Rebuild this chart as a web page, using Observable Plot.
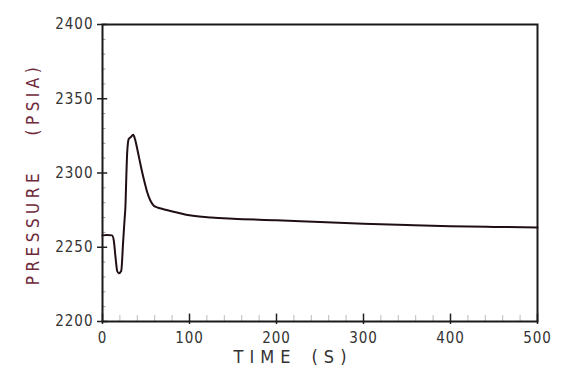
<!DOCTYPE html>
<html>
<head>
<meta charset="utf-8">
<script src="https://cdn.jsdelivr.net/npm/d3@7"></script>
<script src="https://cdn.jsdelivr.net/npm/@observablehq/plot@0.6"></script>
<style>
  html, body { margin: 0; padding: 0; background: #fff; }
  #chart svg { display: block; }
</style>
</head>
<body>
<div id="chart"></div>
<script>
// Time (s)
const time = [0, 5, 11, 13, 15, 16.9, 18.8, 21.5, 23.8, 25.3, 26.4, 27.4, 28.4, 30.2, 32.2, 35.3, 37.5, 39.9, 42.5, 45.6, 48.5, 51.4, 55, 59, 64, 70, 84, 100, 125, 150, 200, 250, 300, 350, 400, 450, 500];
// Pressure (psia)
const pressure = [2258, 2258.3, 2258, 2254.5, 2243, 2234, 2232.5, 2234, 2254.5, 2268, 2278, 2298, 2314, 2323, 2324, 2325.7, 2322.5, 2316.3, 2309, 2300.5, 2293.5, 2287, 2281.5, 2278, 2276.6, 2275.6, 2273.6, 2271.5, 2270, 2269.2, 2268.2, 2267, 2265.9, 2265, 2264.2, 2263.7, 2263.3];

const xTicks = [0, 100, 200, 300, 400, 500];
const yTicks = [2200, 2250, 2300, 2350, 2400];
const yMinor = d3.range(2210, 2400, 10).filter(v => v % 50 !== 0);
const xMinor = d3.range(20, 500, 20).filter(v => v % 100 !== 0);

const data = time.map((t, i) => ({t, p: pressure[i]}));
const font = "'DejaVu Sans Condensed', 'DejaVu Sans', sans-serif";

const chart = Plot.plot({
  width: 576,
  height: 384,
  marginLeft: 102,
  marginRight: 39,
  marginTop: 24,
  marginBottom: 63,
  style: {fontFamily: font, background: "#fff"},
  x: {domain: [0, 500]},
  y: {domain: [2200, 2400]},
  marks: [
    // minor inside ticks
    Plot.ruleY(yMinor, {y: d => d, x1: 0, x2: 4, stroke: "#999", strokeWidth: 1}),
    Plot.ruleX(xMinor, {x: d => d, y1: 2200, y2: 2204, stroke: "#bbb", strokeWidth: 1}),
    // major inside ticks
    Plot.ruleY(yTicks, {y: d => d, x1: 0, x2: 6, stroke: "#222", strokeWidth: 1.5}),
    Plot.ruleX(xTicks, {x: d => d, y1: 2200, y2: 2205, stroke: "#222", strokeWidth: 1.5}),
    Plot.axisY({ticks: yTicks, tickSize: 5, tickPadding: 4, label: null, fontSize: 15, color: "#333", stroke: "#222", strokeWidth: 1.5, tickFormat: d => String(d)}),
    Plot.axisX({ticks: xTicks, tickSize: 3, tickPadding: 8, label: null, fontSize: 15, color: "#333", stroke: "#222", strokeWidth: 1.5, tickFormat: d => String(d)}),
    Plot.frame({stroke: "#1a1a1a", strokeWidth: 2}),
    Plot.line(data, {x: "t", y: "p", stroke: "#1f0f14", strokeWidth: 2, curve: "monotone-x"}),
    Plot.text(["TIME (S)"], {frameAnchor: "bottom", dx: -27, dy: 41, fontSize: 18, fill: "#333", text: d => d}),
    Plot.text(["PRESSURE (PSIA)"], {frameAnchor: "left", textAnchor: "middle", dx: -69, dy: 1, rotate: -90, fontSize: 17, fill: "#6e2a3a", text: d => d})
  ]
});

chart.querySelectorAll("text").forEach(el => {
  const s = el.textContent;
  if (s === "TIME (S)") { el.style.letterSpacing = "6px"; el.style.wordSpacing = "4px"; }
  else if (s === "PRESSURE (PSIA)") { el.style.letterSpacing = "4.5px"; el.style.wordSpacing = "24px"; }
  else if (/^\d+$/.test(s)) el.style.letterSpacing = "1px";
});

document.getElementById("chart").appendChild(chart);
</script>
</body>
</html>
